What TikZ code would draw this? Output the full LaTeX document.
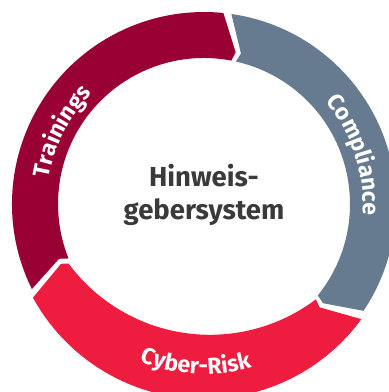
\documentclass[tikz,border=0pt]{standalone}
\usepackage{fontspec}
\setmainfont{Fira Sans}
\usepackage{tikz}
\usetikzlibrary{calc}
\usetikzlibrary{decorations.text}

\definecolor{trainred}{HTML}{990033}
\definecolor{compgrey}{HTML}{667B8F}
\definecolor{cyberred}{HTML}{EE1D3F}
\definecolor{centregrey}{HTML}{3A3A3A}

\tikzset{
  ringlabel/.style={decorate, decoration={text along path, text align=center,
      text color=white, text={|\bfseries\fontsize{23}{23}\selectfont|#1}}},
  centretext/.style={font=\bfseries\fontsize{27.5}{27.5}\selectfont, text=centregrey,
      inner sep=0pt, anchor=base}
}

\begin{document}
\begin{tikzpicture}[x=1pt, y=1pt]
            \useasboundingbox (0,0) rectangle (389,-392);
            \clip (0,0) rectangle (389,-392);
            \coordinate (c) at (204,-204);

            % Trainings
            \fill[trainred] ($(c)+(206.3:192)$) arc[start angle=206.3, end angle=84.2, radius=192]
                -- ($(c)+(78.2:155)$) -- ($(c)+(79.2:146)$)
                arc[start angle=79.2, end angle=201.9, radius=146]
                -- ($(c)+(200.7:155)$) -- cycle;
            % Compliance
            \fill[compgrey] ($(c)+(81.8:192)$) arc[start angle=81.8, end angle=-33.8, radius=192]
                -- ($(c)+(-39.8:155)$) -- ($(c)+(-38.8:146)$)
                arc[start angle=-38.8, end angle=77.4, radius=146]
                -- ($(c)+(76.2:155)$) -- cycle;
            % Cyber-Risk
            \fill[cyberred] ($(c)+(-36.2:195)$) arc[start angle=-36.2, end angle=-151.3, radius=195]
                -- ($(c)+(-157.3:155)$) -- ($(c)+(-156.3:148)$)
                arc[start angle=-143.5, end angle=-53, radius=176]
                -- ($(c)+(-41.8:155)$) -- cycle;

            \path[ringlabel=Trainings] ($(c)+(188:157)$) arc[start angle=188, end angle=118, radius=157];
            \path[ringlabel=Compliance] ($(c)+(53:159)$) arc[start angle=53, end angle=-17, radius=159];
            \path[ringlabel=Cyber-Risk] ($(c)+(-128:170)$) arc[start angle=-128, end angle=-58, radius=170];

            \node[centretext] (hinweis) at (204,-186) {Hinweis-};
            \node[centretext] (geber) at ([yshift=-33pt]hinweis.base) {gebersystem};
\end{tikzpicture}
\end{document}
